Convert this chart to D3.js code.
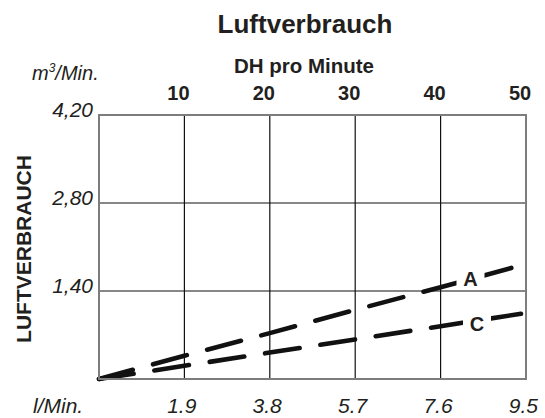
<!DOCTYPE html>
<html>
<head>
<meta charset="utf-8">
<script src="https://cdn.jsdelivr.net/npm/d3@7"></script>
<style>
  html, body { margin: 0; padding: 0; background: #fff; }
  svg { display: block; }
  text { font-family: "Liberation Sans", Arial, Helvetica, sans-serif; fill: #231f20; }
</style>
</head>
<body>
<svg id="chart" width="545" height="418"></svg>
<script>
// ---- data ----
const flowValues = [0, 1.9, 3.8, 5.7, 7.6, 9.5];          // l/Min.
const seriesA    = [0, 0.37, 0.73, 1.10, 1.46, 1.83];     // m3/Min.
const seriesC    = [0, 0.21, 0.42, 0.63, 0.84, 1.05];     // m3/Min.
const seriesNames = ["A", "C"];
const topTicks = [10, 20, 30, 40, 50];                    // DH pro Minute
const bottomTicks = [1.9, 3.8, 5.7, 7.6, 9.5];
const bottomTickLabels = ["1.9", "3.8", "5.7", "7.6", "9.5"];
const yTicks = [1.40, 2.80, 4.20];
const yTickLabels = ["1,40", "2,80", "4,20"];

// ---- layout ----
const svg = d3.select("#chart");
const L = 99, R = 526, T = 115, B = 379;
const x = d3.scaleLinear().domain([0, 9.5]).range([L, R]);
const xTop = d3.scaleLinear().domain([0, 50]).range([L, R]);
const y = d3.scaleLinear().domain([0, 4.2]).range([B, T]);

// data lines
const line = d3.line().x(d => x(d[0])).y(d => y(d[1]));
const series = [
  { name: seriesNames[0], values: seriesA, lx: 470.5, ly: 286 },
  { name: seriesNames[1], values: seriesC, lx: 477, ly: 330.5 }
];
series.forEach(s => {
  svg.append("path")
    .datum(flowValues.map((v, i) => [v, s.values[i]]))
    .attr("d", line)
    .attr("fill", "none")
    .attr("stroke", "#111")
    .attr("stroke-width", 4.6)
    .attr("stroke-linecap", "round")
    .attr("stroke-dasharray", "35,21");
});

// label knockouts
series.forEach(s => {
  svg.append("rect")
    .attr("x", s.lx - 14).attr("y", s.ly - 20)
    .attr("width", 28).attr("height", 26)
    .attr("fill", "#fff");
});

// grid lines
const grid = svg.append("g").attr("stroke", "#111").attr("stroke-width", 1.2);
bottomTicks.slice(0, -1).forEach(v => {
  grid.append("line").attr("x1", x(v)).attr("x2", x(v)).attr("y1", T).attr("y2", B);
});
yTicks.slice(0, -1).forEach(v => {
  grid.append("line").attr("x1", L).attr("x2", R).attr("y1", y(v)).attr("y2", y(v));
});

// frame
svg.append("rect")
  .attr("x", L).attr("y", T).attr("width", R - L).attr("height", B - T)
  .attr("fill", "none").attr("stroke", "#7d7d7d").attr("stroke-width", 2);

// series labels
series.forEach(s => {
  svg.append("text").attr("x", s.lx).attr("y", s.ly)
    .attr("text-anchor", "middle")
    .attr("font-size", 20).attr("font-weight", "bold")
    .text(s.name);
});

// title
svg.append("text").attr("x", 305).attr("y", 33)
  .attr("text-anchor", "middle").attr("font-size", 26).attr("font-weight", "bold")
  .text("Luftverbrauch");

// top axis title
svg.append("text").attr("x", 304).attr("y", 73)
  .attr("text-anchor", "middle").attr("font-size", 20.5).attr("font-weight", "bold")
  .text("DH pro Minute");

// top ticks
svg.append("g").selectAll("text").data(topTicks).join("text")
  .attr("x", d => xTop(d) - 6).attr("y", 100)
  .attr("text-anchor", "middle").attr("font-size", 20).attr("font-weight", "bold")
  .text(d => d);

// y tick labels
svg.append("g").selectAll("text").data(yTicks).join("text")
  .attr("x", 93).attr("y", d => y(d) + 2)
  .attr("text-anchor", "end").attr("font-size", 21).attr("font-style", "italic")
  .text((d, i) => yTickLabels[i]);

// y unit
const unit = svg.append("text").attr("x", 32).attr("y", 80)
  .attr("font-size", 20).attr("font-style", "italic");
unit.append("tspan").text("m");
unit.append("tspan").attr("font-size", 12).attr("dy", -8).text("3");
unit.append("tspan").attr("dy", 8).text("/Min.");

// y axis title
svg.append("text")
  .attr("transform", "translate(31,249) rotate(-90)")
  .attr("text-anchor", "middle").attr("font-size", 21).attr("font-weight", "bold")
  .text("LUFTVERBRAUCH");

// bottom ticks
svg.append("g").selectAll("text").data(bottomTicks).join("text")
  .attr("x", d => x(d) + 12).attr("y", 413)
  .attr("text-anchor", "end").attr("font-size", 21).attr("font-style", "italic")
  .text((d, i) => bottomTickLabels[i]);

// bottom unit
svg.append("text").attr("x", 33).attr("y", 413)
  .attr("font-size", 21).attr("font-style", "italic")
  .text("l/Min.");
</script>
</body>
</html>
